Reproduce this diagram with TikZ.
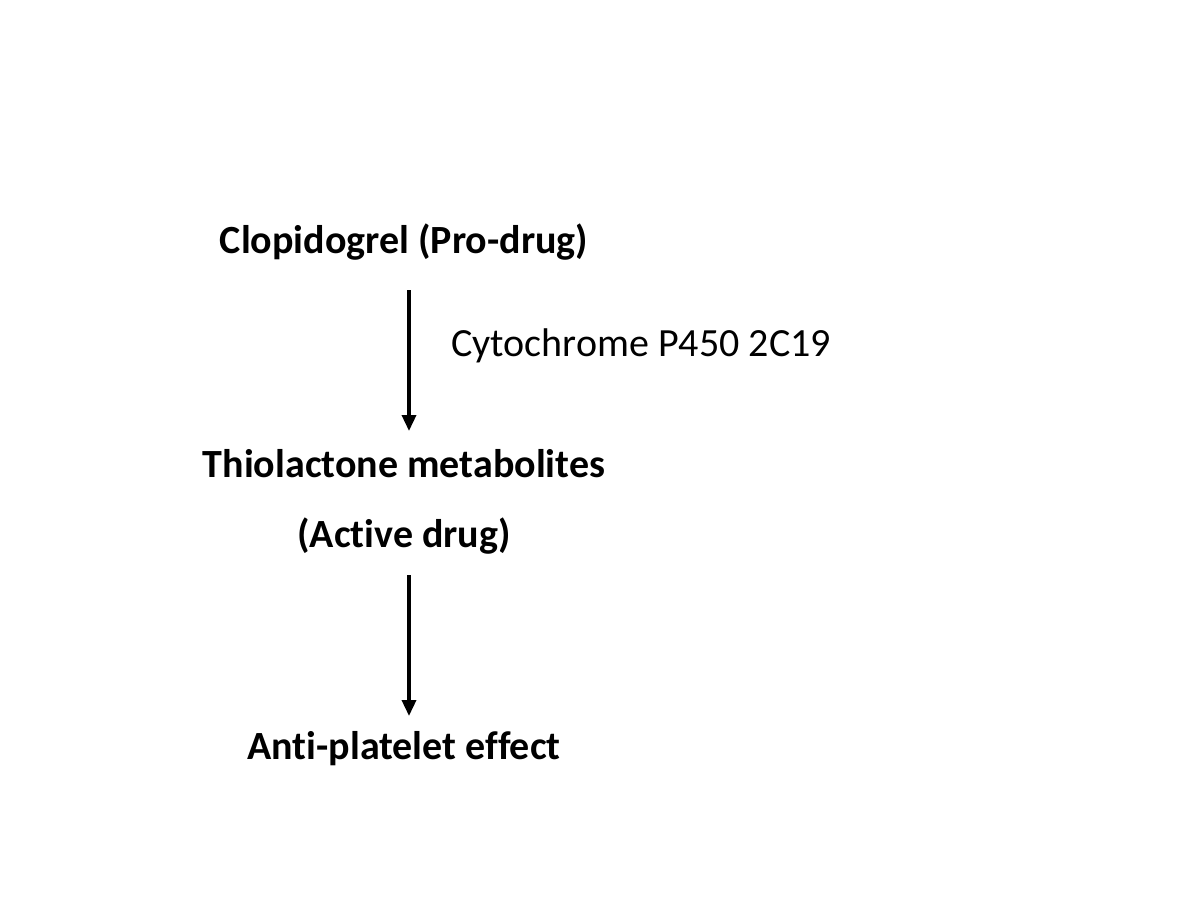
\documentclass[tikz,border=0pt]{standalone}
\usepackage{fontspec}
\setmainfont{Carlito}[Ligatures=CommonOff]
\usetikzlibrary{arrows.meta}
\begin{document}
\begin{tikzpicture}[x=1pt,y=-1pt,
  lbl/.style={font=\fontsize{40}{46}\selectfont\bfseries, inner sep=0pt, anchor=center},
  note/.style={font=\fontsize{40}{46}\selectfont, inner sep=0pt, anchor=west},
  arr/.style={line width=3.5pt, -{Triangle[width=14pt,length=16pt]}}]
\useasboundingbox (0,0) rectangle (1200,900);
\node[lbl] (clo) at (404,242) {Clopidogrel (Pro-drug)};
\node[lbl] (thio) at (404,464) {Thiolactone metabolites};
\node[lbl] (act) at (404,536) {(Active drug)};
\node[lbl] (anti) at (404,749) {Anti-platelet effect};
\coordinate (a1s) at (409,290);
\coordinate (a1e) at (409,431);
\coordinate (a2s) at (409,575);
\coordinate (a2e) at (409,716);
\draw[arr] (a1s) -- (a1e);
\draw[arr] (a2s) -- (a2e);
\node[note] (cyp) at (451,346) {Cytochrome P450 2C19};
\end{tikzpicture}
\end{document}
